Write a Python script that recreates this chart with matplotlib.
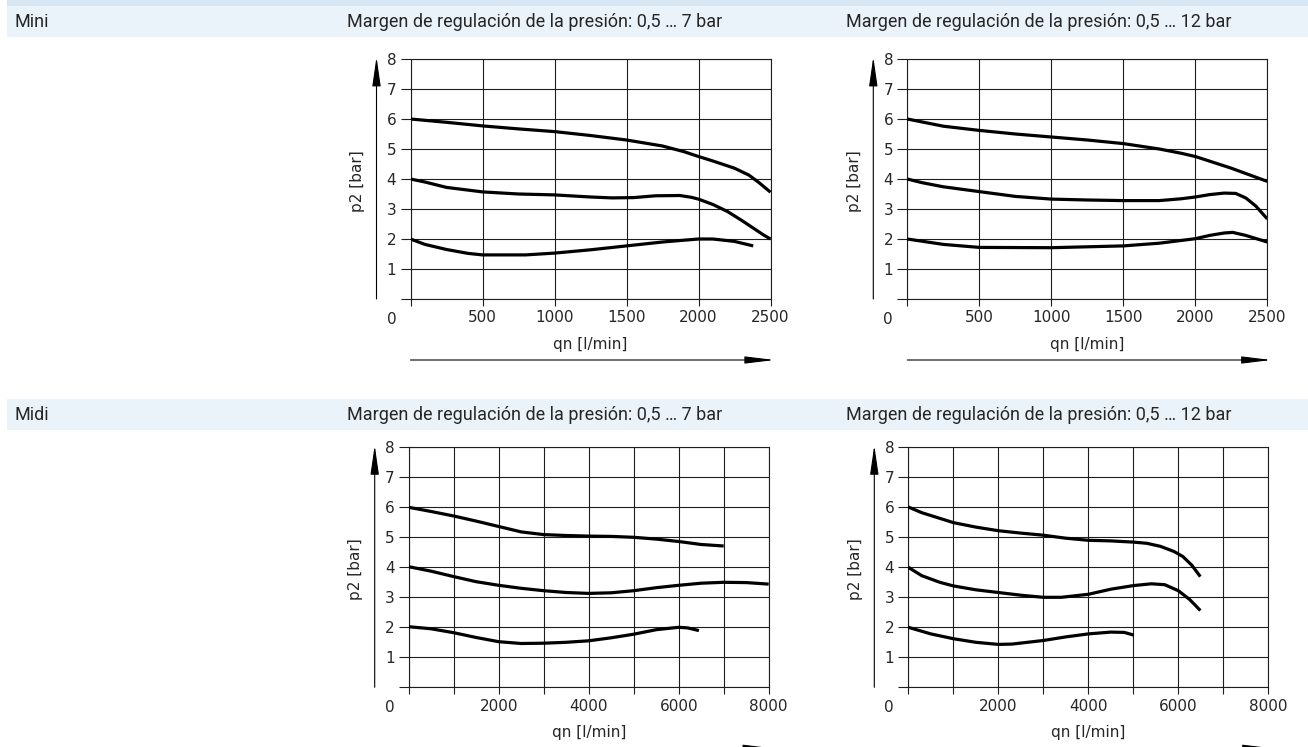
import matplotlib
matplotlib.use("Agg")
import matplotlib.pyplot as plt
from matplotlib.patches import Rectangle, FancyArrowPatch, ArrowStyle
from matplotlib.ticker import MultipleLocator, FuncFormatter

W, H = 1308, 747

# Mini, 0,5 ... 7 bar
mini7_x_top = [0, 250, 500, 750, 1000, 1250, 1500, 1750, 1900, 2000, 2100, 2250, 2350, 2420, 2500]
mini7_y_top = [6.0, 5.89, 5.77, 5.67, 5.58, 5.45, 5.3, 5.1, 4.91, 4.75, 4.6, 4.36, 4.13, 3.88, 3.56]
mini7_x_mid = [0, 100, 250, 500, 750, 1000, 1250, 1400, 1550, 1700, 1870, 1950, 2000, 2100,
               2200, 2300, 2400, 2450, 2500]
mini7_y_mid = [4.0, 3.9, 3.72, 3.57, 3.5, 3.47, 3.4, 3.37, 3.38, 3.44, 3.45, 3.39, 3.33, 3.15,
               2.92, 2.62, 2.3, 2.14, 2.0]
mini7_x_low = [0, 100, 250, 400, 500, 800, 1000, 1250, 1500, 1750, 2000, 2100, 2250, 2380]
mini7_y_low = [2.0, 1.82, 1.65, 1.52, 1.47, 1.47, 1.53, 1.64, 1.77, 1.9, 2.0, 2.0, 1.92, 1.77]

# Mini, 0,5 ... 12 bar
mini12_x_top = [0, 250, 500, 750, 1000, 1250, 1500, 1750, 1900, 2000, 2250, 2500]
mini12_y_top = [6.0, 5.76, 5.62, 5.5, 5.4, 5.3, 5.18, 5.0, 4.86, 4.75, 4.36, 3.92]
mini12_x_mid = [0, 100, 250, 500, 750, 1000, 1250, 1500, 1750, 1900, 2000, 2100, 2200, 2280,
                2350, 2420, 2500]
mini12_y_mid = [4.0, 3.88, 3.74, 3.58, 3.42, 3.33, 3.3, 3.28, 3.28, 3.34, 3.4, 3.48, 3.53, 3.52,
                3.37, 3.1, 2.67]
mini12_x_low = [0, 250, 500, 1000, 1500, 1750, 2000, 2100, 2200, 2260, 2350, 2500]
mini12_y_low = [2.0, 1.82, 1.72, 1.71, 1.77, 1.86, 2.01, 2.12, 2.2, 2.22, 2.12, 1.9]

# Midi, 0,5 ... 7 bar
midi7_x_top = [0, 500, 1000, 1500, 2000, 2500, 3000, 3500, 4000, 4500, 5000, 5500, 6000, 6500, 7000]
midi7_y_top = [6.0, 5.86, 5.71, 5.54, 5.36, 5.18, 5.09, 5.06, 5.04, 5.03, 5.0, 4.94, 4.86, 4.76, 4.71]
midi7_x_mid = [0, 500, 1000, 1500, 2000, 2500, 3000, 3500, 4000, 4500, 5000, 5500, 6000, 6500,
               7000, 7500, 8000]
midi7_y_mid = [4.02, 3.87, 3.69, 3.52, 3.4, 3.3, 3.22, 3.16, 3.13, 3.15, 3.22, 3.32, 3.4, 3.47,
               3.5, 3.49, 3.44]
midi7_x_low = [0, 500, 1000, 1500, 2000, 2500, 3000, 3500, 4000, 4500, 5000, 5500, 6000, 6200, 6450]
midi7_y_low = [2.02, 1.95, 1.82, 1.66, 1.52, 1.46, 1.47, 1.5, 1.55, 1.65, 1.77, 1.92, 2.0, 1.98, 1.89]

# Midi, 0,5 ... 12 bar
midi12_x_top = [0, 300, 1000, 1500, 2000, 2500, 3000, 3500, 4000, 4500, 5000, 5300, 5600, 5900,
                6100, 6300, 6490]
midi12_y_top = [6.01, 5.82, 5.49, 5.34, 5.22, 5.14, 5.07, 4.97, 4.9, 4.88, 4.84, 4.8, 4.7, 4.53,
                4.36, 4.07, 3.69]
midi12_x_mid = [0, 300, 700, 1000, 1500, 2000, 2500, 3000, 3400, 4000, 4500, 5000, 5400, 5700,
                6000, 6250, 6490]
midi12_y_mid = [4.0, 3.72, 3.5, 3.38, 3.25, 3.16, 3.07, 3.0, 3.0, 3.1, 3.27, 3.39, 3.45, 3.42,
                3.22, 2.93, 2.56]
midi12_x_low = [0, 500, 1000, 1500, 2000, 2300, 3000, 3500, 4000, 4500, 4800, 5010]
midi12_y_low = [2.0, 1.78, 1.62, 1.5, 1.43, 1.44, 1.56, 1.68, 1.78, 1.84, 1.83, 1.74]

row_labels = ["Mini", "Midi"]
col_titles = ["Margen de regulación de la presión: 0,5 … 7 bar",
              "Margen de regulación de la presión: 0,5 … 12 bar"]
x_max = [2500, 8000]
x_step = [500, 1000]
x_label_step = [500, 2000]

head_font = ["Roboto", "DejaVu Sans"]
txt_col = "#262626"
grid_col = "#1e1e1e"
fs = 11

fig = plt.figure(figsize=(W / 100, H / 100), dpi=100)

# header bands
band_light = "#ebf3fa"
band_dark = "#d6e6f2"
fig.add_artist(Rectangle((7 / W, 1 - 6 / H), 1, 6 / H, transform=fig.transFigure,
                         color=band_dark, lw=0, zorder=0))
for top in [6, 399]:
    fig.add_artist(Rectangle((7 / W, 1 - (top + 31) / H), 1, 31 / H,
                             transform=fig.transFigure, color=band_light, lw=0, zorder=0))

for r, base in enumerate([27, 420]):
    fig.text(15 / W, 1 - base / H, row_labels[r], family=head_font, fontsize=13,
             color=txt_col, va="baseline")
    for c, xl in enumerate([347, 846]):
        fig.text(xl / W, 1 - base / H, col_titles[c], family=head_font, fontsize=13,
                 color=txt_col, va="baseline")

ax_pos = [[(410.5, 59), (907.3, 59)], [(408.7, 447.3), (908.3, 447.3)]]
curves = [
    [[(mini7_x_top, mini7_y_top), (mini7_x_mid, mini7_y_mid), (mini7_x_low, mini7_y_low)],
     [(mini12_x_top, mini12_y_top), (mini12_x_mid, mini12_y_mid), (mini12_x_low, mini12_y_low)]],
    [[(midi7_x_top, midi7_y_top), (midi7_x_mid, midi7_y_mid), (midi7_x_low, midi7_y_low)],
     [(midi12_x_top, midi12_y_top), (midi12_x_mid, midi12_y_mid), (midi12_x_low, midi12_y_low)]],
]


def arrow(p0, p1, hw):
    style = ArrowStyle("-|>", head_length=18, head_width=hw)
    fig.add_artist(FancyArrowPatch((p0[0] / W, 1 - p0[1] / H), (p1[0] / W, 1 - p1[1] / H),
                                   transform=fig.transFigure, arrowstyle=style,
                                   mutation_scale=1, lw=0.8, color="black",
                                   shrinkA=0, shrinkB=0))


for r in range(2):
    for c in range(2):
        left, top = ax_pos[r][c]
        ax = fig.add_axes([left / W, 1 - (top + 240) / H, 360 / W, 240 / H])
        for xs, ys in curves[r][c]:
            ax.plot(xs, ys, color="black", lw=2.3, solid_capstyle="butt",
                    solid_joinstyle="round", zorder=3)
        ax.set_xlim(0, x_max[r])
        ax.set_ylim(0, 8)
        ax.xaxis.set_major_locator(MultipleLocator(x_step[r]))
        ax.yaxis.set_major_locator(MultipleLocator(1))
        step = x_label_step[r]
        ax.xaxis.set_major_formatter(FuncFormatter(
            lambda v, p, s=step: "" if v == 0 or round(v) % s else f"{v:.0f}"))
        ax.yaxis.set_major_formatter(FuncFormatter(
            lambda v, p: "" if v == 0 else f"{v:.0f}"))
        ax.grid(True, color=grid_col, lw=0.8)
        for sp in ax.spines.values():
            sp.set_color(grid_col)
            sp.set_linewidth(0.8)
        ax.tick_params(axis="y", length=7.2, width=0.8, color=grid_col, pad=3.0,
                       labelsize=fs, labelcolor=txt_col)
        ax.tick_params(axis="x", length=5, width=0.8, color=grid_col, pad=3.2,
                       labelsize=fs, labelcolor=txt_col)
        ax.annotate("0", xy=(0, 0), xycoords="axes fraction", xytext=(-19, -20),
                    textcoords="offset pixels", ha="center", va="center",
                    fontsize=fs, color=txt_col)
        ax.annotate("qn [l/min]", xy=(0.5, 0), xycoords="axes fraction", xytext=(0, -45),
                    textcoords="offset pixels", ha="center", va="center",
                    fontsize=fs, color=txt_col)
        ax.annotate("p2 [bar]", xy=(0, 0.5), xycoords="axes fraction", xytext=(-53, -2),
                    textcoords="offset pixels", ha="center", va="center", rotation=90,
                    fontsize=fs, color=txt_col)
        arrow((left - 34, top + 240), (left - 34, top - 2), 2.6)
        arrow((left, top + 301), (left + 364, top + 301), 2.2)

fig.savefig("out.png", dpi=100)
